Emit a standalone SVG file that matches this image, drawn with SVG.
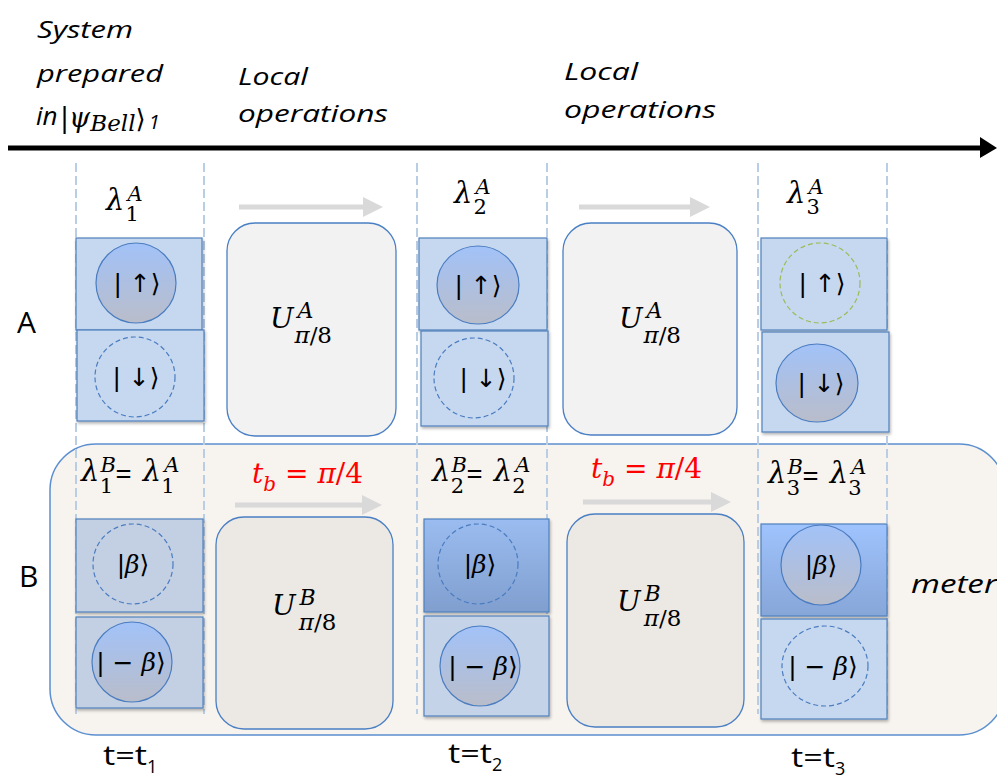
<svg xmlns="http://www.w3.org/2000/svg" width="997" height="779" viewBox="0 0 997 779">
<style>
.box{stroke:#4f81bd;stroke-width:1.2;filter:url(#sh)}
.lb{fill:#c6d8f0}
.gb{fill:#c3d0e4}
.ub{stroke:#4a7fc4;stroke-width:1.3}
.fc{fill:url(#cg);stroke:#4a7cc0;stroke-width:1.2}
.dc{fill:none;stroke:#4a7cc0;stroke-width:1.2;stroke-dasharray:5 3}
.gc{fill:none;stroke:#9bbb59;stroke-width:1.2;stroke-dasharray:5 3}
.vl{stroke:#b9cde5;stroke-width:2;stroke-dasharray:9 4}
.ga{stroke:#d9d9d9;stroke-width:5;fill:none}
.it{font-family:"Open Sans","Liberation Sans",sans-serif;font-style:italic;fill:#000}
.sn{font-family:"Open Sans","Liberation Sans",sans-serif;fill:#000}
.m{font-family:"DejaVu Serif","Liberation Serif",serif;font-style:italic;fill:#000}
.mu{font-family:"DejaVu Serif","Liberation Serif",serif;fill:#000}
.k{font-family:"DejaVu Sans","Liberation Sans",sans-serif;font-size:25px;text-anchor:middle;fill:#000}
.up{font-style:normal}
.eq{font-family:"Open Sans","Liberation Sans",sans-serif;font-style:normal;font-size:29px}
.red{fill:#ff0000}
</style>
<defs>
<filter id="sh" x="-10%" y="-10%" width="130%" height="130%">
<feDropShadow dx="1" dy="2" stdDeviation="1.5" flood-color="#000" flood-opacity="0.3"/>
</filter>
<linearGradient id="cg" x1="0" y1="0" x2="0" y2="1">
<stop offset="0" stop-color="#a2c2f8"/>
<stop offset="1" stop-color="#b9bdca"/>
</linearGradient>
<linearGradient id="dg" x1="0" y1="0" x2="0" y2="1">
<stop offset="0" stop-color="#9bbcf0"/>
<stop offset="1" stop-color="#809fcf"/>
</linearGradient>
<linearGradient id="bg" x1="0" y1="0" x2="0" y2="1">
<stop offset="0" stop-color="#9fc3fd"/>
<stop offset="1" stop-color="#87a6d8"/>
</linearGradient>
<marker id="ah" markerWidth="4" markerHeight="4" refX="1" refY="2" orient="auto" markerUnits="strokeWidth">
<path d="M0,0 L4,2 L0,4 z" fill="#d9d9d9"/>
</marker>
</defs>

<g id="meter-region">
<rect x="50" y="444" width="955" height="291" rx="46" fill="#f7f3ef" stroke="#5b8fd0" stroke-width="1.5"/>
<text class="it" x="911" y="593" font-size="26" textLength="86" lengthAdjust="spacingAndGlyphs">meter</text>
</g>

<g id="guides">
<line class="vl" x1="76" y1="163" x2="76" y2="714"/>
<line class="vl" x1="204" y1="163" x2="204" y2="714"/>
<line class="vl" x1="417" y1="163" x2="417" y2="714"/>
<line class="vl" x1="547" y1="163" x2="547" y2="714"/>
<line class="vl" x1="758" y1="163" x2="758" y2="714"/>
<line class="vl" x1="887" y1="163" x2="887" y2="714"/>
</g>

<g id="connectors">
<line x1="8" y1="148" x2="982" y2="148" stroke="#000" stroke-width="5"/>
<path d="M980,137 L997,148 L980,158 z" fill="#000"/>
<line class="ga" x1="239" y1="207" x2="368" y2="207" marker-end="url(#ah)"/>
<line class="ga" x1="579" y1="207" x2="695" y2="207" marker-end="url(#ah)"/>
<line class="ga" x1="235" y1="505" x2="367" y2="505" marker-end="url(#ah)"/>
<line class="ga" x1="583" y1="502" x2="716" y2="502" marker-end="url(#ah)"/>
</g>

<g id="header">
<text class="it" x="37" y="38" font-size="24" textLength="96" lengthAdjust="spacingAndGlyphs">System</text>
<text class="it" x="37" y="82" font-size="24" textLength="126" lengthAdjust="spacingAndGlyphs">prepared</text>
<text class="it" x="36" y="125" font-size="26">in</text>
<text class="m" x="60" y="127" font-size="27"><tspan class="up">|</tspan>ψ<tspan font-size="23" dy="4">Bell</tspan><tspan class="up" font-family="DejaVu Sans" font-size="26" dy="-3">⟩</tspan><tspan font-family="Open Sans" font-size="20" dx="3" dy="1">1</tspan></text>
<text class="it" x="238" y="85" font-size="24" textLength="70" lengthAdjust="spacingAndGlyphs">Local</text>
<text class="it" x="238" y="122" font-size="24" textLength="150" lengthAdjust="spacingAndGlyphs">operations</text>
<text class="it" x="564" y="80" font-size="24" textLength="74" lengthAdjust="spacingAndGlyphs">Local</text>
<text class="it" x="564" y="118" font-size="24" textLength="152" lengthAdjust="spacingAndGlyphs">operations</text>
<text class="sn" x="17" y="333" font-size="30">A</text>
<text class="sn" x="19" y="587" font-size="30">B</text>
</g>

<g id="lambda-A">
<text class="m" x="106" y="210" font-size="29">λ<tspan dx="3" dy="-9" font-size="21">A</tspan><tspan class="up" dx="-17" dy="20" font-size="21">1</tspan></text>
<text class="m" x="454" y="203" font-size="29">λ<tspan dx="3" dy="-9" font-size="21">A</tspan><tspan class="up" dx="-17" dy="20" font-size="21">2</tspan></text>
<text class="m" x="787" y="203" font-size="29">λ<tspan dx="3" dy="-9" font-size="21">A</tspan><tspan class="up" dx="-17" dy="20" font-size="21">3</tspan></text>
</g>

<g id="lambda-B">
<text class="m" x="81" y="481" font-size="29">λ<tspan dx="1" dy="-9" font-size="21">B</tspan><tspan class="up" dx="-16" dy="21" font-size="21">1</tspan><tspan class="eq" dx="2" dy="-9">=</tspan><tspan dx="11" dy="-3">λ</tspan><tspan dx="3" dy="-9" font-size="21">A</tspan><tspan class="up" dx="-18" dy="21" font-size="21">1</tspan></text>
<text class="m" x="432" y="481" font-size="29">λ<tspan dx="1" dy="-9" font-size="21">B</tspan><tspan class="up" dx="-16" dy="21" font-size="21">2</tspan><tspan class="eq" dx="2" dy="-9">=</tspan><tspan dx="11" dy="-3">λ</tspan><tspan dx="3" dy="-9" font-size="21">A</tspan><tspan class="up" dx="-18" dy="21" font-size="21">2</tspan></text>
<text class="m" x="768" y="483" font-size="29">λ<tspan dx="1" dy="-9" font-size="21">B</tspan><tspan class="up" dx="-16" dy="21" font-size="21">3</tspan><tspan class="eq" dx="2" dy="-9">=</tspan><tspan dx="11" dy="-3">λ</tspan><tspan dx="3" dy="-9" font-size="21">A</tspan><tspan class="up" dx="-18" dy="21" font-size="21">3</tspan></text>
</g>

<g id="tb-labels">
<text class="m red" x="252" y="483" font-size="28">t<tspan dy="8" font-size="20">b</tspan><tspan class="up" dx="9" dy="-8">= <tspan font-style="italic">π</tspan>/4</tspan></text>
<text class="m red" x="591" y="478" font-size="28">t<tspan dy="8" font-size="20">b</tspan><tspan class="up" dx="9" dy="-8">= <tspan font-style="italic">π</tspan>/4</tspan></text>
</g>

<g id="UA1">
<rect x="227" y="223" width="169" height="213" rx="28" fill="#f2f2f2" class="ub"/>
<text class="m" x="270" y="328" font-size="28">U<tspan dx="4" dy="-10" font-size="22">A</tspan><tspan dx="-19" dy="25" font-size="23">π</tspan><tspan class="up" font-size="23">/8</tspan></text>
</g>
<g id="UA2">
<rect x="563" y="223" width="174" height="212" rx="28" fill="#f2f2f2" class="ub"/>
<text class="m" x="619" y="328" font-size="28">U<tspan dx="4" dy="-10" font-size="22">A</tspan><tspan dx="-19" dy="25" font-size="23">π</tspan><tspan class="up" font-size="23">/8</tspan></text>
</g>
<g id="UB1">
<rect x="216" y="517" width="177" height="212" rx="28" fill="#ece9e5" class="ub"/>
<text class="m" x="272" y="615" font-size="28">U<tspan dx="4" dy="-10" font-size="22">B</tspan><tspan dx="-17" dy="25" font-size="23">π</tspan><tspan class="up" font-size="23">/8</tspan></text>
</g>
<g id="UB2">
<rect x="567" y="514" width="177" height="213" rx="28" fill="#ece9e5" class="ub"/>
<text class="m" x="617" y="611" font-size="28">U<tspan dx="4" dy="-10" font-size="22">B</tspan><tspan dx="-17" dy="25" font-size="23">π</tspan><tspan class="up" font-size="23">/8</tspan></text>
</g>

<g id="A1-up">
<rect class="box lb" x="76" y="238" width="126" height="92"/>
<ellipse class="fc" cx="136" cy="283" rx="40" ry="40"/>
<text class="k" x="137" y="292">| ↑⟩</text>
</g>
<g id="A1-down">
<rect class="box lb" x="77" y="330" width="127" height="91"/>
<circle class="dc" cx="135" cy="377" r="40"/>
<text class="k" x="136" y="386">| ↓⟩</text>
</g>
<g id="A2-up">
<rect class="box lb" x="419" y="238" width="128" height="92"/>
<ellipse class="fc" cx="478" cy="285" rx="41" ry="39"/>
<text class="k" x="478" y="294">| ↑⟩</text>
</g>
<g id="A2-down">
<rect class="box lb" x="421" y="331" width="127" height="95"/>
<circle class="dc" cx="474" cy="378" r="40"/>
<text class="k" x="483" y="387">| ↓⟩</text>
</g>
<g id="A3-up">
<rect class="box lb" x="761" y="238" width="126" height="92"/>
<circle class="gc" cx="820" cy="283" r="40"/>
<text class="k" x="822" y="292">| ↑⟩</text>
</g>
<g id="A3-down">
<rect class="box lb" x="762" y="332" width="127" height="100"/>
<ellipse class="fc" cx="817" cy="383" rx="41" ry="39"/>
<text class="k" x="821" y="392">| ↓⟩</text>
</g>

<g id="B1-beta">
<rect class="box gb" x="76" y="519" width="127" height="93"/>
<circle class="dc" cx="133" cy="564" r="40"/>
<text class="k" x="133" y="573">|<tspan class="m" font-size="25">β</tspan>⟩</text>
</g>
<g id="B1-mbeta">
<rect class="box gb" x="76" y="617" width="127" height="91"/>
<circle class="fc" cx="132" cy="662" r="40"/>
<text class="k" x="131" y="671">| − <tspan class="m" font-size="25">β</tspan>⟩</text>
</g>
<g id="B2-beta">
<rect class="box" fill="url(#dg)" x="424" y="519" width="125" height="93"/>
<circle class="dc" cx="478" cy="564" r="40"/>
<text class="k" x="480" y="573">|<tspan class="m" font-size="25">β</tspan>⟩</text>
</g>
<g id="B2-mbeta">
<rect class="box" fill="#c5d3e8" x="424" y="616" width="125" height="100"/>
<circle class="fc" cx="480" cy="666" r="40"/>
<text class="k" x="483" y="675">| − <tspan class="m" font-size="25">β</tspan>⟩</text>
</g>
<g id="B3-beta">
<rect class="box" fill="url(#bg)" x="761" y="524" width="126" height="92"/>
<circle class="fc" cx="821" cy="565" r="40"/>
<text class="k" x="821" y="574">|<tspan class="m" font-size="25">β</tspan>⟩</text>
</g>
<g id="B3-mbeta">
<rect class="box lb" x="761" y="619" width="126" height="100"/>
<ellipse class="dc" cx="825" cy="666" rx="43" ry="40"/>
<text class="k" x="823" y="675">| − <tspan class="m" font-size="25">β</tspan>⟩</text>
</g>

<g id="times">
<text class="sn" x="103" y="765" font-size="28"><tspan textLength="44" lengthAdjust="spacingAndGlyphs">t=t</tspan><tspan font-size="18" dy="8">1</tspan></text>
<text class="sn" x="448" y="763" font-size="28"><tspan textLength="44" lengthAdjust="spacingAndGlyphs">t=t</tspan><tspan font-size="18" dy="8">2</tspan></text>
<text class="sn" x="791" y="767" font-size="28"><tspan textLength="44" lengthAdjust="spacingAndGlyphs">t=t</tspan><tspan font-size="18" dy="8">3</tspan></text>
</g>
</svg>
